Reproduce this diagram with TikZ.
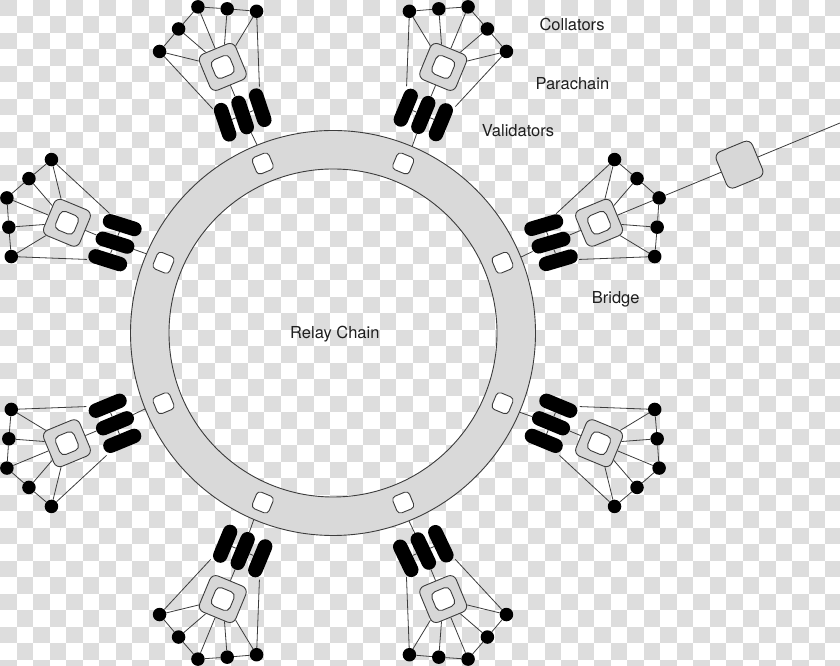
\documentclass[tikz,border=0pt]{standalone}
\usepackage{fontspec}
\setmainfont{TeX Gyre Heros}
\pgfdeclarelayer{back}
\pgfdeclarelayer{lines}
\pgfsetlayers{back,lines,main}
\definecolor{chk}{RGB}{221,221,221}
\definecolor{ringfill}{RGB}{217,217,217}
\definecolor{sqfill}{RGB}{215,215,215}
\definecolor{ink}{RGB}{60,60,60}
\tikzset{
  conn/.style={draw=ink, line width=0.8pt},
  dotnode/.style={circle, fill=black, inner sep=0pt, minimum size=13.5pt},
  pillnode/.style={rectangle, rounded corners=7.2pt, fill=black, inner sep=0pt, minimum width=40pt, minimum height=14.5pt},
  colsq/.style={rectangle, rounded corners=6.5pt, fill=sqfill, draw=ink, line width=0.9pt, inner sep=0pt, minimum size=39pt},
  insq/.style={rectangle, rounded corners=5pt, fill=white, draw=ink, line width=0.9pt, inner sep=0pt, minimum size=20pt},
  ringsq/.style={rectangle, rounded corners=4pt, fill=white, draw=ink, line width=0.9pt, inner sep=0pt, minimum size=18pt},
  lbl/.style={font=\fontsize{16.5}{20}\selectfont, text=black!88, inner sep=0pt, anchor=base west},
}
% #1 name prefix, #2 angle, #3 pill tilt
\newcommand\mycluster[3]{%
  \begin{scope}[shift={(333,333)}, rotate=#2]
    \node[colsq, rotate=#2] (#1sq) at (288,0) {};
    \node[insq, rotate=#2] (#1in) at (288,0) {};
    \node[pillnode, rotate={#2+(#3)}] (#1pa) at (236,19) {};
    \node[pillnode, rotate={#2+(#3)}] (#1pb) at (236,0) {};
    \node[pillnode, rotate={#2+(#3)}] (#1pc) at (236,-19) {};
    \node[dotnode] (#1d1) at (326.5,52.5) {};
    \node[dotnode] (#1d2) at (340,26.3) {};
    \node[dotnode] (#1d3) at (353,0) {};
    \node[dotnode] (#1d4) at (340,-26.3) {};
    \node[dotnode] (#1d5) at (326.5,-52.5) {};
  \end{scope}
  \begin{pgfonlayer}{lines}
    \draw[conn] (ring.#2) -- (#1pb) -- (#1sq);
    \draw[conn] (#1pa) -- (#1pb) -- (#1pc);
    \draw[conn] (#1pa) -- (#1d1);
    \draw[conn] (#1pc) -- (#1d5);
    \draw[conn] (#1d1) -- (#1d2) -- (#1d3) -- (#1d4) -- (#1d5);
    \draw[conn] (#1sq) -- (#1d1);
    \draw[conn] (#1sq) -- (#1d2);
    \draw[conn] (#1sq) -- (#1d3);
    \draw[conn] (#1sq) -- (#1d4);
    \draw[conn] (#1sq) -- (#1d5);
  \end{pgfonlayer}
}
\begin{document}
\begin{tikzpicture}[x=1pt,y=1pt]
\useasboundingbox (0,0) rectangle (840,666);
\begin{pgfonlayer}{back}
  \fill[white] (0,0) rectangle (840,666);
  \begin{scope}
    \clip (0,0) rectangle (840,666);
    \foreach \i in {0,...,50}{%
      \foreach \j in {0,...,40}{%
        \pgfmathtruncatemacro\pp{mod(\i+\j,2)}%
        \ifnum\pp=0
          \fill[chk] ({\i*16.5},{666-\j*16.5}) rectangle ({(\i+1)*16.5},{666-(\j+1)*16.5});
        \fi
      }%
    }
  \end{scope}
  \path[fill=ringfill, draw=ink, line width=0.9pt, even odd rule]
    (333,333) circle[radius=202.5] (333,333) circle[radius=164];
\end{pgfonlayer}

\node[circle, inner sep=0pt, minimum size=405pt] (ring) at (333,333) {};
\node[lbl, anchor=base west] (trelay) at (290,327.7) {Relay Chain};

\foreach \a [count=\k] in {22.5,67.5,112.5,157.5,202.5,247.5,292.5,337.5}{%
  \node[ringsq, rotate=\a] (rs\k) at ([shift={(333,333)}]\a:183.5) {};
}

\mycluster{R}{22.5}{-6}
\mycluster{TR}{67.5}{0}
\mycluster{TL}{112.5}{-4}
\mycluster{L}{157.5}{5}
\mycluster{LL}{202.5}{0}
\mycluster{BL}{247.5}{0}
\mycluster{BR}{292.5}{3}
\mycluster{RL}{337.5}{0}

\begin{scope}[shift={(333,333)}, rotate=22.5]
  \node[colsq, rotate=22.5] (bridge) at (440,0) {};
  \coordinate (edge) at (550,0);
\end{scope}
\begin{pgfonlayer}{lines}
  \draw[conn] (Rd3) -- (bridge) -- (edge);
\end{pgfonlayer}

\node[lbl] (tcol) at (539.3,635) {Collators};
\node[lbl] (tpara) at (535.3,576) {Parachain};
\node[lbl] (tval) at (481.7,529.3) {Validators};
\node[lbl] (tbridge) at (591.7,362.7) {Bridge};
\end{tikzpicture}
\end{document}
